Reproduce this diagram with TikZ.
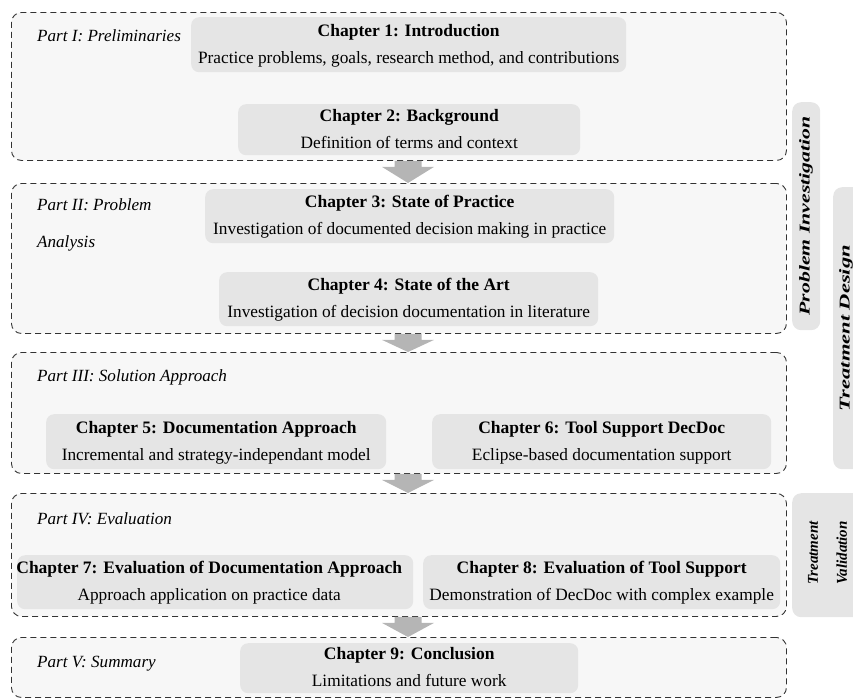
\documentclass[tikz,border=0pt]{standalone}
\usepackage{fontspec}
\setmainfont{Liberation Serif}
\usetikzlibrary{calc}

\definecolor{partfill}{HTML}{F7F7F7}
\definecolor{chapfill}{HTML}{E5E5E5}
\definecolor{arrowgray}{HTML}{B5B5B5}
\definecolor{dashgray}{HTML}{333333}

\tikzset{
  partbox/.style={draw=dashgray, fill=partfill, dash pattern=on 6pt off 4pt,
    line width=0.9pt, rounded corners=10pt, anchor=north west, inner sep=0pt},
  chapbox/.style={fill=chapfill, rounded corners=8pt, anchor=north west, inner sep=0pt},
  sidebox/.style={fill=chapfill, rounded corners=9pt, anchor=north west, inner sep=0pt},
  parttitle/.style={font=\fontsize{17.1}{37}\selectfont\itshape, anchor=base west,
    align=left, inner sep=0pt},
  chaptitle/.style={font=\fontsize{17.5}{20}\selectfont\bfseries, anchor=base, inner sep=0pt},
  chapdesc/.style={font=\fontsize{17.3}{20}\selectfont, anchor=base, inner sep=0pt},
  sidelabel/.style={font=\fontsize{15}{29}\selectfont\bfseries\itshape, rotate=90,
    align=center, inner sep=0pt},
  partarrow/.style={fill=arrowgray},
}

% chapter box: name, left, top, width, height, text shift, title, description
\newcommand\chapbox[8]{%
  \node[chapbox, minimum width=#4pt, minimum height=#5pt] (#1) at (#2,#3) {};
  \node[chaptitle] (#1t) at ($(#1.center)+(#6,-8.5)$) {#7};
  \node[chapdesc] (#1d) at ($(#1.center)+(#6,18.5)$) {#8};
}

% block arrow from the bottom of one part to the top of the next
\newcommand\partarrow[2]{%
  \fill[partarrow] ($(ax |- #1.south)+(-13.5,0)$) -- ($(ax |- #1.south)+(13.5,0)$)
    -- ($(ax |- #1.south)+(13.5,6)$) -- ($(ax |- #1.south)+(26,6)$)
    -- (ax |- #2.north)
    -- ($(ax |- #1.south)+(-26,6)$) -- ($(ax |- #1.south)+(-13.5,6)$) -- cycle;
}

\begin{document}
\begin{tikzpicture}[x=1pt, y=-1pt]
  \useasboundingbox (0,0) rectangle (853,699);

  % parts
  \node[partbox, minimum width=775pt, minimum height=148pt] (p1) at (11,12) {};
  \node[partbox, minimum width=775pt, minimum height=150pt] (p2) at (11,183) {};
  \node[partbox, minimum width=775pt, minimum height=121pt] (p3) at (11,352) {};
  \node[partbox, minimum width=775pt, minimum height=123pt] (p4) at (11,493) {};
  \node[partbox, minimum width=775pt, minimum height=60pt]  (p5) at (11,637) {};

  % arrows between consecutive parts
  \coordinate (ax) at (408,0);
  \partarrow{p1}{p2}
  \partarrow{p2}{p3}
  \partarrow{p3}{p4}
  \partarrow{p4}{p5}

  % part titles (base anchor of a two-line title sits on its last line)
  \node[parttitle] (p1l) at (37,41)  {Part I: Preliminaries};
  \node[parttitle] (p2l) at (37,247) {Part II: Problem\\Analysis};
  \node[parttitle] (p3l) at (37,381) {Part III: Solution Approach};
  \node[parttitle] (p4l) at (37,524) {Part IV: Evaluation};
  \node[parttitle] (p5l) at (37,667) {Part V: Summary};

  % chapters
  \chapbox{c1}{191}{17}{435}{55}{0}{Chapter 1: Introduction}{Practice problems, goals, research method, and contributions}
  \chapbox{c2}{238}{104}{342}{51}{0}{Chapter 2: Background}{Definition of terms and context}
  \chapbox{c3}{205}{189}{409}{54}{0}{Chapter 3: State of Practice}{Investigation of documented decision making in practice}
  \chapbox{c4}{219}{272}{379}{54}{0}{Chapter 4: State of the Art}{Investigation of decision documentation in literature}
  \chapbox{c5}{46}{414}{340}{55}{0}{Chapter 5: Documentation Approach}{Incremental and strategy-independant model}
  \chapbox{c6}{432}{414}{339}{55}{0}{Chapter 6: Tool Support DecDoc}{Eclipse-based documentation support}
  \chapbox{c7}{17}{555}{396}{54}{-6}{Chapter 7: Evaluation of Documentation Approach}{Approach application on practice data}
  \chapbox{c8}{423}{555}{357}{54}{0}{Chapter 8: Evaluation of Tool Support}{Demonstration of DecDoc with complex example}
  \chapbox{c9}{240}{643}{338}{50}{0}{Chapter 9: Conclusion}{Limitations and future work}

  % research phases along the right side
  \node[sidebox, minimum width=28pt, minimum height=228pt] (s1) at (792,102) {};
  \node[sidebox, minimum width=40pt, minimum height=282pt] (s2) at (833,187) {};
  \node[sidebox, minimum width=80pt, minimum height=124pt] (s3) at (792,493) {};
  \node[sidelabel] (s1l) at (806,216) {\scalebox{1.45}[1]{Problem Investigation}};
  \node[sidelabel] (s2l) at (846,328) {\scalebox{1.5}[1]{Treatment Design}};
  \node[sidelabel] (s3l) at (827.5,553) {Treatment\\Validation};
\end{tikzpicture}
\end{document}
